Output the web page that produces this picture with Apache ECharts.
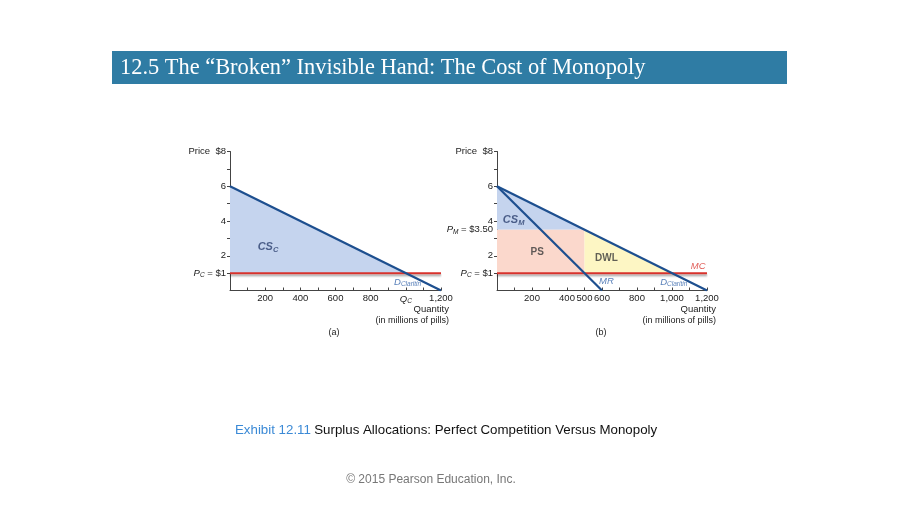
<!DOCTYPE html>
<html>
<head>
<meta charset="utf-8">
<script src="https://cdn.jsdelivr.net/npm/echarts@6/dist/echarts.min.js"></script>
<style>html,body{margin:0;padding:0;background:#fff}#c{width:900px;height:506px}</style>
</head>
<body>
<div id="c"></div>
<script>
// ---- data ----
const demandQ = [0, 1200];
const demandP = [6, 0];
const mrQ = [0, 600];
const mrP = [6, 0];
const mcQ = [0, 1200];
const mcP = [1, 1];
const csCompetitive = [[0, 6], [1000, 1], [0, 1]];
const csMonopoly = [[0, 6], [500, 3.5], [0, 3.5]];
const psMonopoly = [[0, 3.5], [500, 3.5], [500, 1], [0, 1]];
const dwlMonopoly = [[500, 3.5], [1000, 1], [500, 1]];
const yTicksA = [1, 2, 4, 6, 8];
const yTicksB = [1, 2, 3.5, 4, 6, 8];
const xTicksA = [200, 400, 600, 800, 1000, 1200];
const xTicksB = [200, 400, 500, 600, 800, 1000, 1200];
const minorTicksX = [100,200,300,400,500,600,700,800,900,1000,1100,1200];
const minorTicksY = [1,2,3,4,5,6,7,8];
const titleText = '12.5 The \u201cBroken\u201d Invisible Hand: The Cost of Monopoly';
const captionNum = 'Exhibit 12.11';
const captionText = 'Surplus Allocations: Perfect Competition Versus Monopoly';
const copyright = '\u00a9 2015 Pearson Education, Inc.';

const FONT = 'Liberation Sans, Arial, sans-serif';
const AX = '#444';
const zip = (a, b) => a.map((v, i) => [v, b[i]]);

function yLabel(v) {
  if (v === 8) return 'Price  $8';
  if (v === 1) return '{i|P}{s|C}{n| = $1}';
  if (v === 3.5) return '{i|P}{s|M}{n| = $3.50}';
  return String(v);
}
function xLabelA(v) {
  if (v === 1000) return '{i|Q}{s|C}';
  if (v === 1200) return '1,200';
  return String(v);
}
function xLabelB(v) {
  if (v === 1000) return '1,000';
  if (v === 1200) return '1,200';
  return String(v);
}
const labelRich = {
  i: {fontStyle: 'italic', fontSize: 9.5, fontFamily: FONT, color: '#222'},
  s: {fontStyle: 'italic', fontSize: 6.5, fontFamily: FONT, color: '#222', verticalAlign: 'bottom', padding: [4,0,0,0]},
  n: {fontSize: 9.5, fontFamily: FONT, color: '#222'}
};

function mkX(idx, ticks, fmt) {
  return {
    type: 'value', gridIndex: idx, min: 0, max: 1200,
    axisLine: {lineStyle: {color: AX, width: 1}},
    axisTick: {show: true, inside: true, length: 3, customValues: minorTicksX, lineStyle: {color: AX}},
    splitLine: {show: false},
    axisLabel: {customValues: ticks, formatter: fmt, fontSize: 9.5, fontFamily: FONT, color: '#222', margin: 3, rich: labelRich}
  };
}
function mkY(idx, ticks) {
  return {
    type: 'value', gridIndex: idx, min: 0, max: 8,
    axisLine: {show: true, lineStyle: {color: AX, width: 1}},
    axisTick: {show: true, inside: false, length: 3, customValues: minorTicksY, lineStyle: {color: AX}},
    splitLine: {show: false},
    axisLabel: {customValues: ticks, formatter: (v) => yLabel(v), fontSize: 9.5, fontFamily: FONT, color: '#222', margin: 4, rich: labelRich}
  };
}

function polySeries(xi, pts, color) {
  return {
    type: 'custom', xAxisIndex: xi, yAxisIndex: xi, silent: true, z: 1,
    data: [0],
    renderItem: function (params, api) {
      return {type: 'polygon', shape: {points: pts.map(p => api.coord(p))}, style: {fill: color}};
    }
  };
}
function lineSeries(xi, data, color, width, extra) {
  return Object.assign({
    type: 'line', xAxisIndex: xi, yAxisIndex: xi, data: data, symbol: 'none', z: 5,
    lineStyle: {color: color, width: width}, silent: true
  }, extra || {});
}
function textSeries(xi, pos, fmt, rich) {
  return {
    type: 'scatter', xAxisIndex: xi, yAxisIndex: xi, symbolSize: 0, z: 10, silent: true,
    data: [pos],
    label: {show: true, position: 'inside', formatter: fmt, rich: rich}
  };
}
const DBLUE = '#1d4f8f';
const RED = '#d8322c';
const richArea = {
  i: {fontStyle: 'italic', fontWeight: 'bold', fontSize: 11, fontFamily: FONT, color: '#2a3f6e'},
  s: {fontStyle: 'italic', fontWeight: 'bold', fontSize: 7.5, fontFamily: FONT, color: '#2a3f6e', verticalAlign: 'bottom', padding: [5,0,0,0]},
  b: {fontWeight: 'bold', fontSize: 10, fontFamily: FONT, color: '#3a3a3a'},
  r: {fontStyle: 'italic', fontSize: 9.5, fontFamily: FONT, color: RED},
  m: {fontStyle: 'italic', fontSize: 9.5, fontFamily: FONT, color: '#2d5fa8'},
  d: {fontStyle: 'italic', fontSize: 9.5, fontFamily: FONT, color: '#2d5fa8'},
  ds: {fontStyle: 'italic', fontSize: 6.5, fontFamily: FONT, color: '#2d5fa8', verticalAlign: 'bottom', padding: [4,0,0,0]}
};
const mcShadow = {shadowColor: 'rgba(0,0,0,0.35)', shadowBlur: 2, shadowOffsetY: 2};

const chart = echarts.init(document.getElementById('c'), null, {renderer: 'canvas'});
chart.setOption({
  animation: false,
  backgroundColor: '#ffffff',
  grid: [
    {left: 230, top: 151.5, width: 211, height: 139},
    {left: 497, top: 151.5, width: 210, height: 139}
  ],
  xAxis: [mkX(0, xTicksA, xLabelA), mkX(1, xTicksB, xLabelB)],
  yAxis: [mkY(0, yTicksA), mkY(1, yTicksB)],
  series: [
    polySeries(0, csCompetitive, '#c5d4ee'),
    polySeries(1, csMonopoly, '#c5d4ee'),
    polySeries(1, psMonopoly, '#fbd8cc'),
    polySeries(1, dwlMonopoly, '#fdf6c4'),
    lineSeries(0, zip(mcQ, mcP), RED, 2, {lineStyle: Object.assign({color: RED, width: 2}, mcShadow)}),
    lineSeries(1, zip(mcQ, mcP), RED, 2, {lineStyle: Object.assign({color: RED, width: 2}, mcShadow)}),
    lineSeries(0, zip(demandQ, demandP), DBLUE, 2.2),
    lineSeries(1, zip(demandQ, demandP), DBLUE, 2.2),
    lineSeries(1, zip(mrQ, mrP), DBLUE, 2.2),
    textSeries(0, [216, 2.5], '{i|CS}{s|C}', richArea),
    textSeries(1, [95, 4.05], '{i|CS}{s|M}', richArea),
    textSeries(1, [230, 2.2], '{b|PS}', richArea),
    textSeries(1, [625, 1.85], '{b|DWL}', richArea),
    textSeries(1, [1150, 1.4], '{r|MC}', richArea),
    textSeries(1, [625, 0.5], '{m|MR}', richArea),
    textSeries(0, [1010, 0.45], '{d|D}{ds|Claritin}', richArea),
    textSeries(1, [1010, 0.45], '{d|D}{ds|Claritin}', richArea)
  ],
  graphic: [
    {type: 'rect', shape: {x: 112, y: 51, width: 675, height: 33}, style: {fill: '#2f7ca4'}},
    {type: 'text', x: 120, y: 68, style: {text: titleText, fill: '#fff', font: '22.4px "Liberation Serif", "Times New Roman", serif', textVerticalAlign: 'middle'}},
    {type: 'text', x: 449, y: 309, style: {text: 'Quantity', fill: '#222', font: '9.5px ' + FONT, textAlign: 'right', textVerticalAlign: 'middle'}},
    {type: 'text', x: 449, y: 321, style: {text: '(in millions of pills)', fill: '#222', font: '9px ' + FONT, textAlign: 'right', textVerticalAlign: 'middle'}},
    {type: 'text', x: 716, y: 309, style: {text: 'Quantity', fill: '#222', font: '9.5px ' + FONT, textAlign: 'right', textVerticalAlign: 'middle'}},
    {type: 'text', x: 716, y: 321, style: {text: '(in millions of pills)', fill: '#222', font: '9px ' + FONT, textAlign: 'right', textVerticalAlign: 'middle'}},
    {type: 'text', x: 334, y: 333, style: {text: '(a)', fill: '#222', font: '9px ' + FONT, textAlign: 'center', textVerticalAlign: 'middle'}},
    {type: 'text', x: 601, y: 333, style: {text: '(b)', fill: '#222', font: '9px ' + FONT, textAlign: 'center', textVerticalAlign: 'middle'}},
    {type: 'text', x: 235, y: 430, style: {
      text: '{a|' + captionNum + '} {b|' + captionText + '}', textVerticalAlign: 'middle',
      rich: {a: {fill: '#3b8ad6', font: '13.3px ' + FONT}, b: {fill: '#111', font: '13.3px ' + FONT}}
    }},
    {type: 'text', x: 431, y: 480, style: {text: copyright, fill: '#777', font: '12px ' + FONT, textAlign: 'center', textVerticalAlign: 'middle'}}
  ]
});
</script>
</body>
</html>
